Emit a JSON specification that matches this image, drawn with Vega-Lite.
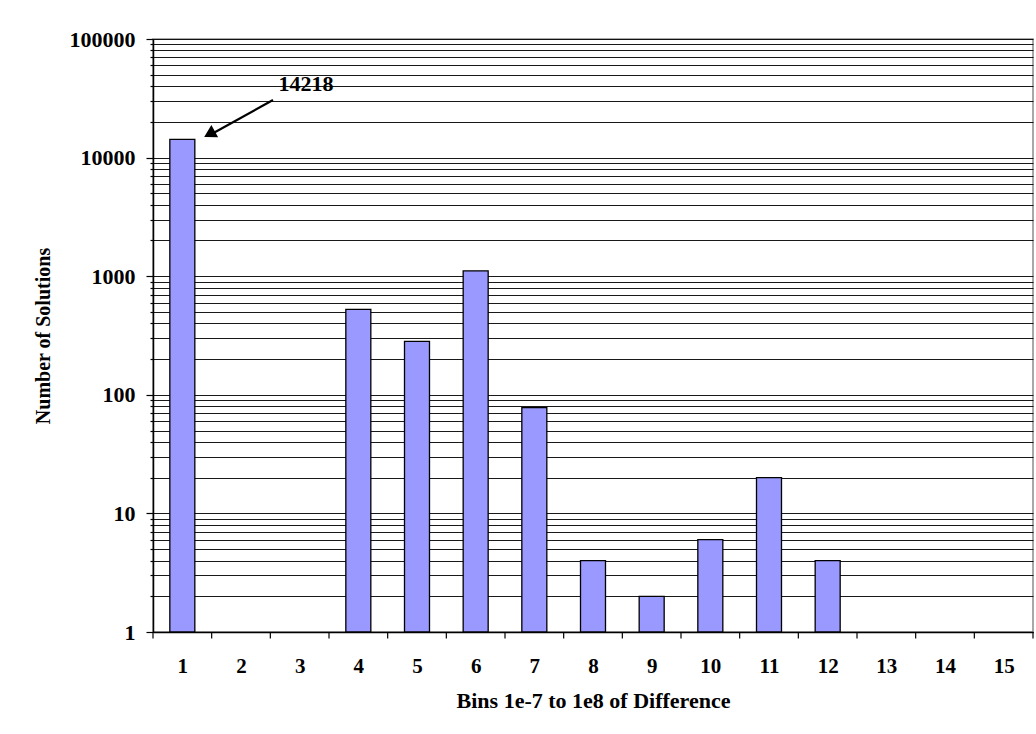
{
  "$schema": "https://vega.github.io/schema/vega-lite/v6.json",
  "width": 880,
  "height": 593,
  "autosize": {"type": "none"},
  "padding": {"left": 153, "top": 39, "right": 3, "bottom": 102},
  "background": "white",
  "config": {
    "font": "Liberation Serif",
    "view": {"stroke": "#8c8c8c", "strokeWidth": 1.5},
    "axis": {"labelFont": "Liberation Serif", "titleFont": "Liberation Serif", "labelFontWeight": "bold", "titleFontWeight": "bold", "labelColor": "#000", "titleColor": "#000", "domainColor": "#000", "tickColor": "#000"}
  },
  "datasets": {
    "bins": [
      {"bin": 1, "count": 14218},
      {"bin": 2, "count": null},
      {"bin": 3, "count": null},
      {"bin": 4, "count": 525},
      {"bin": 5, "count": 282},
      {"bin": 6, "count": 1110},
      {"bin": 7, "count": 78},
      {"bin": 8, "count": 4},
      {"bin": 9, "count": 2},
      {"bin": 10, "count": 6},
      {"bin": 11, "count": 20},
      {"bin": 12, "count": 4},
      {"bin": 13, "count": null},
      {"bin": 14, "count": null},
      {"bin": 15, "count": null}
    ],
    "edges": [
      {"edge": 0.5}, {"edge": 1.5}, {"edge": 2.5}, {"edge": 3.5}, {"edge": 4.5}, {"edge": 5.5}, {"edge": 6.5}, {"edge": 7.5},
      {"edge": 8.5}, {"edge": 9.5}, {"edge": 10.5}, {"edge": 11.5}, {"edge": 12.5}, {"edge": 13.5}, {"edge": 14.5}, {"edge": 15.5}
    ],
    "note": [
      {"px": 3.11, "py": 41750, "label": "14218"}
    ],
    "arrow": [
      {"px": 2.545, "py": 30600, "px2": 1.5, "py2": 15800}
    ],
    "head": [
      {"px": 1.47, "py": 15900}
    ]
  },
  "layer": [
    {
      "data": {"name": "bins"},
      "transform": [{"filter": "isValid(datum.count)"}],
      "mark": {"type": "bar", "fill": "#9999ff", "stroke": "#000", "strokeWidth": 1.3, "width": 25},
      "encoding": {
        "x": {
          "field": "bin", "type": "quantitative",
          "scale": {"domain": [0.5, 15.5], "nice": false, "zero": false, "padding": 0},
          "axis": {
            "title": "Bins 1e-7 to 1e8 of Difference",
            "values": [1,2,3,4,5,6,7,8,9,10,11,12,13,14,15],
            "format": "d",
            "labelAngle": 0,
            "labelFontSize": 21, "titleFontSize": 22,
            "ticks": false, "domainWidth": 1.5,
            "labelPadding": 23, "titlePadding": 14, "grid": false
          }
        },
        "y": {
          "field": "count", "type": "quantitative",
          "scale": {"type": "log", "domain": [1, 100000], "nice": false},
          "axis": {
            "title": "Number of Solutions",
            "values": [1,2,3,4,5,6,7,8,9,10,20,30,40,50,60,70,80,90,100,200,300,400,500,600,700,800,900,1000,2000,3000,4000,5000,6000,7000,8000,9000,10000,20000,30000,40000,50000,60000,70000,80000,90000,100000],
            "format": "d",
            "labelExpr": "indexof(['1','10','100','1000','10000','100000'], datum.label) >= 0 ? datum.label : ''",
            "labelOverlap": false,
            "labelFontSize": 22, "titleFontSize": 20,
            "tickSize": {"condition": {"test": "indexof([1,10,100,1000,10000,100000], datum.value) >= 0", "value": 7}, "value": 3},
            "tickWidth": 1.2, "domainWidth": 1.5,
            "labelPadding": 11, "titlePadding": 16,
            "grid": true, "gridColor": "#000", "gridWidth": 1, "gridOpacity": 0.9
          }
        },
        "y2": {"datum": 1}
      }
    },
    {
      "data": {"name": "edges"},
      "mark": {"type": "rule", "stroke": "#000", "strokeWidth": 1.2},
      "encoding": {
        "x": {"field": "edge", "type": "quantitative"},
        "y": {"datum": 1},
        "y2": {"datum": 0.88}
      }
    },
    {
      "data": {"name": "arrow"},
      "mark": {"type": "rule", "stroke": "#000", "strokeWidth": 2.2},
      "encoding": {
        "x": {"field": "px", "type": "quantitative"},
        "x2": {"field": "px2"},
        "y": {"field": "py", "type": "quantitative"},
        "y2": {"field": "py2"}
      }
    },
    {
      "data": {"name": "head"},
      "mark": {"type": "point", "shape": "triangle-up", "filled": true, "fill": "#000", "stroke": "#000", "opacity": 1, "size": 110, "angle": 241},
      "encoding": {
        "x": {"field": "px", "type": "quantitative"},
        "y": {"field": "py", "type": "quantitative"}
      }
    },
    {
      "data": {"name": "note"},
      "mark": {"type": "text", "font": "Liberation Serif", "fontWeight": "bold", "fontSize": 22, "baseline": "middle", "align": "center", "color": "#000"},
      "encoding": {
        "x": {"field": "px", "type": "quantitative"},
        "y": {"field": "py", "type": "quantitative"},
        "text": {"field": "label"}
      }
    }
  ]
}
